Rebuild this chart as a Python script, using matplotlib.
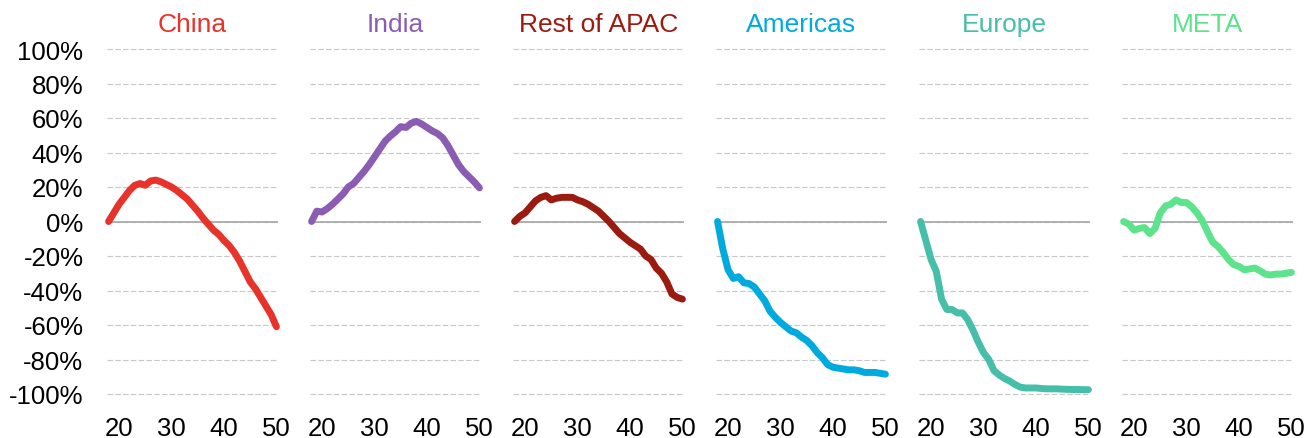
import numpy as np
import matplotlib.pyplot as plt
from matplotlib.ticker import FuncFormatter

plt.rcParams['font.family'] = ['Liberation Sans', 'DejaVu Sans']

# 年份 (2018-2050, 显示为两位数)
years = np.arange(18, 51)

regions = ["China", "India", "Rest of APAC", "Americas", "Europe", "META"]
colors = ["#E8332A", "#8A5DB3", "#9B1B10", "#00AADF", "#45BFA9", "#5CE38C"]

china = [0, 5, 10, 14, 18, 21, 22, 21, 23.5, 24, 23, 21.5, 20, 18, 15.5, 13, 9.5,
         6, 2, -1.5, -5, -7.5, -11, -14, -18, -23, -29, -35, -39, -44, -49, -54, -61]
india = [0, 6, 5.5, 7.5, 10, 13, 16, 20, 22, 25.5, 29, 33, 37.5, 42, 46.5, 49.5, 52,
         55, 54.5, 57, 58, 56.5, 54.5, 52.5, 51, 48.5, 44, 38.5, 33, 29, 26, 23, 19.5]
rest_apac = [0, 3, 5, 8.5, 12, 14, 15, 12.5, 13.5, 14, 14, 14, 12.5, 11.5, 10, 8, 6,
             3, 0, -3.5, -7, -9.5, -12, -14, -16, -20, -22, -27, -30, -35, -42, -44, -45]
americas = [0, -16, -28, -33, -32, -35.5, -36, -38, -42, -46, -52, -55.5, -58.5, -61,
            -63.5, -64.5, -67, -69, -72, -76, -79, -83, -84.5, -85, -85.5, -86, -86,
            -86.5, -87.5, -87.5, -87.5, -88, -88.5]
europe = [0, -11, -22, -29, -45, -51, -51, -53, -53, -57, -63, -70, -76, -80, -86.5,
          -89, -91, -92.5, -94.5, -96, -96.5, -96.5, -96.5, -96.8, -97, -97, -97,
          -97.2, -97.3, -97.4, -97.4, -97.5, -97.5]
meta = [0, -1.5, -5, -4, -3.5, -7, -4, 5, 9, 10, 12.5, 11, 11, 8.5, 5, 0.5, -6, -12,
        -14.5, -18, -22, -25, -26, -28, -27.5, -27, -28.5, -30.5, -31, -30.5, -30.5,
        -30, -29.5]

series = [china, india, rest_apac, americas, europe, meta]

y_ticks = np.arange(-100, 101, 20)
x_ticks = [20, 30, 40, 50]

fig = plt.figure(figsize=(13.11, 4.39), dpi=100)

left0 = 107 / 1311
step = 203 / 1311
width = 171 / 1311
bottom = 44 / 439
height = 345 / 439

for i, (name, col, vals) in enumerate(zip(regions, colors, series)):
    ax = fig.add_axes([left0 + i * step, bottom, width, height])
    ax.set_xlim(17.7, 50.3)
    ax.set_ylim(-100, 100)
    ax.set_yticks(y_ticks)
    ax.set_xticks(x_ticks)
    ax.grid(axis='y', color='#C8C8C8', linestyle=(0, (5, 2)), linewidth=0.8)
    for gl in ax.get_ygridlines():
        gl.set_clip_on(False)
    ax.axhline(0, color='#A6A6A6', linewidth=1.2, zorder=2)
    ax.plot(years, vals, color=col, linewidth=5, solid_capstyle='round',
            solid_joinstyle='round', clip_on=False, zorder=3)
    for s in ax.spines.values():
        s.set_visible(False)
    ax.tick_params(length=0, labelsize=18.5, colors='black')
    ax.tick_params(axis='x', pad=16)
    ax.tick_params(axis='y', pad=17)
    if i == 0:
        ax.yaxis.set_major_formatter(FuncFormatter(lambda v, p: f"{v:.0f}%"))
    else:
        ax.set_yticklabels([])
    ax.set_title(name, color=col, fontsize=19, pad=13)

fig.savefig("out.png", dpi=100)
